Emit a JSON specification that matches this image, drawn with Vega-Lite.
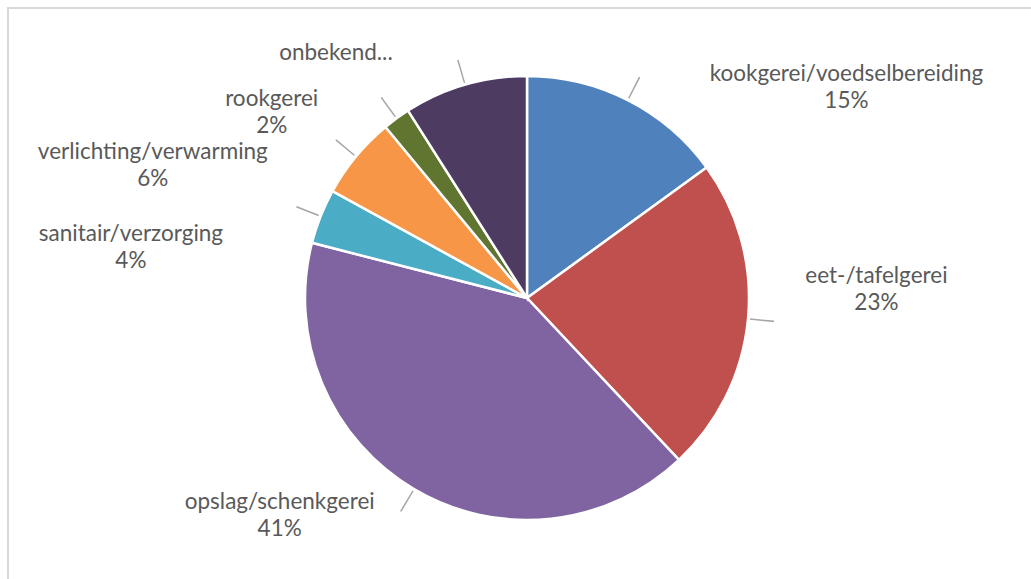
{
  "$schema": "https://vega.github.io/schema/vega-lite/v6.json",
  "width": 1038,
  "height": 580,
  "autosize": {"type": "none"},
  "padding": {"left": 8, "top": 8, "right": 0, "bottom": 0},
  "background": "white",
  "config": {"view": {"stroke": null}},
  "datasets": {
    "slices": [
      {"seq": 1, "category": "kookgerei/voedselbereiding", "value": 15, "label": "kookgerei/voedselbereiding\n15%"},
      {"seq": 2, "category": "eet-/tafelgerei", "value": 23, "label": "eet-/tafelgerei\n23%"},
      {"seq": 3, "category": "opslag/schenkgerei", "value": 41, "label": "opslag/schenkgerei\n41%"},
      {"seq": 4, "category": "sanitair/verzorging", "value": 4, "label": "sanitair/verzorging\n4%"},
      {"seq": 5, "category": "verlichting/verwarming", "value": 6, "label": "verlichting/verwarming\n6%"},
      {"seq": 6, "category": "rookgerei", "value": 2, "label": "rookgerei\n2%"},
      {"seq": 7, "category": "onbekend...", "value": 9, "label": "onbekend..."}
    ],
    "frame": [{"name": "chart area"}]
  },
  "layer": [
    {
      "data": {"name": "frame"},
      "mark": {"type": "rect", "fill": null, "stroke": "#d9d9d9", "strokeWidth": 2},
      "encoding": {}
    },
    {
      "data": {"name": "slices"},
      "mark": {"type": "arc", "outerRadius": 222, "stroke": "white", "strokeWidth": 2.5},
      "encoding": {
        "theta": {"field": "value", "type": "quantitative", "stack": true},
        "order": {"field": "seq", "type": "quantitative"},
        "color": {
          "field": "category",
          "type": "nominal",
          "legend": null,
          "scale": {
            "domain": ["kookgerei/voedselbereiding", "eet-/tafelgerei", "opslag/schenkgerei", "sanitair/verzorging", "verlichting/verwarming", "rookgerei", "onbekend..."],
            "range": ["#4f81bd", "#c0504d", "#8064a2", "#4bacc6", "#f79646", "#5f7530", "#4d3b62"]
          }
        }
      }
    },
    {
      "data": {"name": "slices"},
      "transform": [
        {"stack": "value", "groupby": [], "sort": [{"field": "seq", "order": "ascending"}], "as": ["v0", "v1"]}
      ],
      "mark": {
        "type": "arc",
        "innerRadius": 224,
        "outerRadius": 248,
        "color": "#a6a6a6",
        "theta": {"expr": "PI*(datum.v0+datum.v1)/100 - 0.0032"},
        "theta2": {"expr": "PI*(datum.v0+datum.v1)/100 + 0.0032"}
      },
      "encoding": {}
    },
    {
      "data": {"name": "slices"},
      "mark": {
        "type": "text",
        "radius": 245,
        "font": "Lato",
        "fontSize": 22.5,
        "lineBreak": "\n",
        "lineHeight": 27,
        "color": "#595959",
        "align": "center",
        "baseline": "middle",
        "dx": {"expr": "(sin(PI*(datum.value_start+datum.value_end)/100) > 0 ? 1 : -1) * (length(datum.category)*5.7 + (cos(PI*(datum.value_start+datum.value_end)/100) > 0 ? 60 : 20))"},
        "dy": {"expr": "cos(PI*(datum.value_start+datum.value_end)/100) > 0 ? 60*(1 - cos(PI*(datum.value_start+datum.value_end)/100)) - 12 : -50*(1 + cos(PI*(datum.value_start+datum.value_end)/100))"}
      },
      "encoding": {
        "theta": {"field": "value", "type": "quantitative", "stack": true},
        "order": {"field": "seq", "type": "quantitative"},
        "text": {"field": "label", "type": "nominal"}
      }
    }
  ]
}
